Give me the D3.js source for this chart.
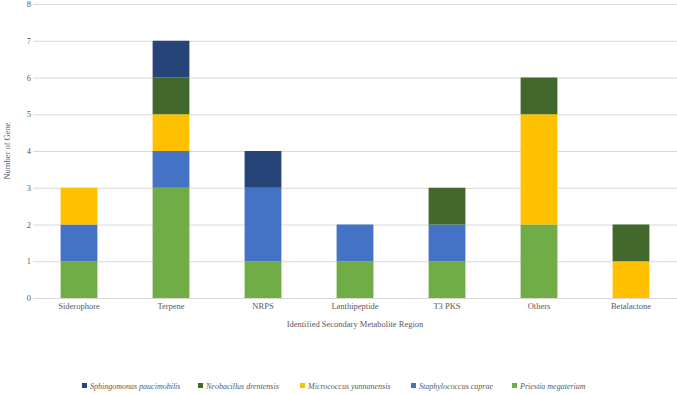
<!DOCTYPE html>
<html><head><meta charset="utf-8">
<script src="https://cdn.jsdelivr.net/npm/d3@7"></script>
<style>body{margin:0;background:#fff}text{font-family:"Liberation Serif","DejaVu Serif","Times New Roman",serif}</style>
</head><body><svg id="c" width="677" height="394"></svg>
<script>
const categories = ["Siderophore","Terpene","NRPS","Lanthipeptide","T3 PKS","Others","Betalactone"];
const seriesNames = ["Priestia megaterium","Staphylococcus caprae","Micrococcus yunnanensis","Neobacillus drentensis","Sphingomonas paucimobilis"];
const priestia = [1,3,1,1,1,2,0];
const staphylococcus = [1,1,2,1,1,0,0];
const micrococcus = [1,1,0,0,0,3,1];
const neobacillus = [0,1,0,0,1,1,1];
const sphingomonas = [0,1,1,0,0,0,0];
const yTicks = [0,1,2,3,4,5,6,7,8];
const colors = ["#70AD47","#4472C4","#FFC000","#43682B","#264478"];
const legendOrder = [4,3,2,1,0];

const FONT = '"Liberation Serif", "DejaVu Serif", serif';
const svg = d3.select("#c");
const x = d3.scaleBand().domain(categories).range([33,677]).paddingInner(0.6).paddingOuter(0.3);
const y = d3.scaleLinear().domain([0,8]).range([298,4]);
const seriesVals = [priestia, staphylococcus, micrococcus, neobacillus, sphingomonas];
const rows = categories.map((c,i)=>{const r={cat:c}; seriesNames.forEach((s,j)=>r[s]=seriesVals[j][i]); return r;});
const stack = d3.stack().keys(seriesNames)(rows);

svg.append("g").selectAll("line").data(yTicks).join("line")
  .attr("x1",33).attr("x2",677).attr("y1",d=>y(d)+0.5).attr("y2",d=>y(d)+0.5)
  .attr("stroke","#d9d9d9").attr("stroke-width",1);

svg.append("g").selectAll("text").data(yTicks).join("text")
  .attr("x",31).attr("y",d=>y(d)+3).attr("text-anchor","end").attr("font-family",FONT)
  .attr("font-size",8.5).attr("fill","#595959").text(d=>d);

svg.append("g").selectAll("g").data(stack).join("g").attr("fill",(d,i)=>colors[i])
  .selectAll("rect").data(d=>d.filter(p=>p[1]>p[0])).join("rect")
  .attr("x",d=>x(d.data.cat)).attr("width",x.bandwidth())
  .attr("y",d=>y(d[1])).attr("height",d=>y(d[0])-y(d[1]));

svg.append("g").selectAll("text").data(categories).join("text")
  .attr("x",d=>x(d)+x.bandwidth()/2).attr("y",309).attr("text-anchor","middle").attr("font-family",FONT)
  .attr("font-size",8.5).attr("fill","#595959").text(d=>d);

svg.append("text").attr("x",355).attr("y",327).attr("text-anchor","middle").attr("font-family",FONT)
  .attr("font-size",8.5).attr("fill","#595959").text("Identified Secondary Metabolite Region");
svg.append("text").attr("transform","translate(10,151) rotate(-90)").attr("text-anchor","middle").attr("font-family",FONT)
  .attr("font-size",8.5).attr("fill","#595959").text("Number of Gene");

const legX = [82,198,300,411,512];
const lg = svg.append("g").selectAll("g").data(legendOrder).join("g")
  .attr("transform",(d,i)=>`translate(${legX[i]},386)`);
lg.append("rect").attr("x",0).attr("y",-3).attr("width",5).attr("height",5).attr("fill",d=>colors[d]);
lg.append("text").attr("x",8).attr("y",2.5).attr("font-size",8).attr("font-style","italic").attr("font-family",FONT)
  .attr("fill","#595959").text(d=>seriesNames[d]);
</script></body></html>
